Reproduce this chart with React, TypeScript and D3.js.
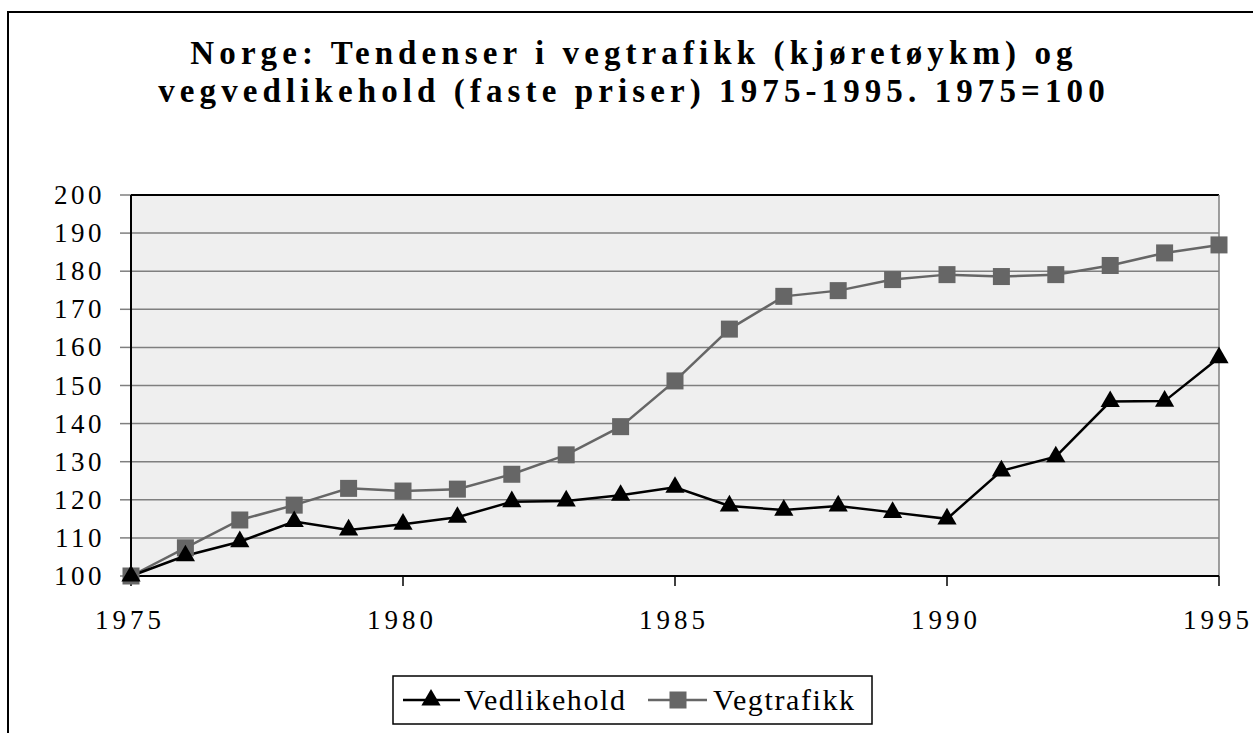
import * as d3 from 'd3';

const years = d3.range(1975, 1996);
const vedlikehold = [100, 105.3, 109.0, 114.3, 112.1, 113.6, 115.4, 119.5, 119.7, 121.2, 123.3, 118.4, 117.3, 118.4, 116.7, 115.0, 127.6, 131.3, 145.8, 145.9, 157.3];
const vegtrafikk = [100, 107.4, 114.7, 118.6, 123.0, 122.3, 122.8, 126.7, 131.8, 139.2, 151.2, 164.8, 173.4, 174.9, 177.8, 179.1, 178.6, 179.1, 181.5, 184.8, 186.9];
const yTicks = [100, 110, 120, 130, 140, 150, 160, 170, 180, 190, 200];
const xTicks = [1975, 1980, 1985, 1990, 1995];
const titleLines = [
  'Norge: Tendenser i vegtrafikk (kjøretøykm) og',
  'vegvedlikehold (faste priser) 1975-1995. 1975=100',
];

const W = 1253;
const H = 733;
const serif = '"Liberation Serif", "Times New Roman", serif';

export default function App() {
  const x = d3.scaleLinear().domain([1975, 1995]).range([131, 1219]);
  const y = d3.scaleLinear().domain([100, 200]).range([576, 195]);

  const line = d3.line<number>()
    .x((_, i) => x(years[i]))
    .y(d => y(d));

  const tri = d3.symbol().type(d3.symbolTriangle).size(160)();
  const sq = 17;

  return (
    <svg width={W} height={H} style={{ position: 'absolute', left: 0, top: 0, background: '#fff' }}>
      {/* outer chart frame, runs off the page right and bottom */}
      <rect x={8} y={12} width={W + 20} height={H + 20} fill="#fff" stroke="#000" strokeWidth={2} />

      {titleLines.map((t, i) => (
        <text key={i} x={634} y={64 + i * 38} textAnchor="middle"
          fontFamily={serif} fontWeight="bold" fontSize={33} letterSpacing={5.1} fill="#000">
          {t}
        </text>
      ))}

      {/* plot area */}
      <rect x={x(1975)} y={y(200)} width={x(1995) - x(1975)} height={y(100) - y(200)} fill="#efefef" />
      {yTicks.map(t => (
        <g key={t}>
          <line x1={x(1975)} x2={x(1995)} y1={y(t)} y2={y(t)} stroke="#7f7f7f" strokeWidth={1.5} />
          <line x1={x(1975) - 11} x2={x(1975)} y1={y(t)} y2={y(t)} stroke="#7f7f7f" strokeWidth={1.5} />
          <text x={105} y={y(t) + 9} textAnchor="end" fontFamily={serif} fontSize={27} letterSpacing={3.5} fill="#000">
            {t}
          </text>
        </g>
      ))}
      <line x1={x(1975)} x2={x(1995)} y1={y(200)} y2={y(200)} stroke="#000" strokeWidth={2} />
      <line x1={x(1995)} x2={x(1995)} y1={y(200)} y2={y(100)} stroke="#7f7f7f" strokeWidth={1.5} />
      <line x1={x(1975)} x2={x(1975)} y1={y(200)} y2={y(100)} stroke="#000" strokeWidth={2} />
      <line x1={x(1975)} x2={x(1995)} y1={y(100)} y2={y(100)} stroke="#000" strokeWidth={2} />
      {xTicks.map(t => (
        <g key={t}>
          <line x1={x(t)} x2={x(t)} y1={y(100)} y2={y(100) + 10} stroke="#000" strokeWidth={1.5} />
          <text x={x(t) - 1} y={629} textAnchor="middle" fontFamily={serif} fontSize={27} letterSpacing={4} fill="#000">
            {t}
          </text>
        </g>
      ))}

      {/* series */}
      <path d={line(vegtrafikk) ?? ''} fill="none" stroke="#666" strokeWidth={2.5} />
      <path d={line(vedlikehold) ?? ''} fill="none" stroke="#000" strokeWidth={2.5} />
      {vegtrafikk.map((v, i) => (
        <rect key={i} x={x(years[i]) - sq / 2} y={y(v) - sq / 2} width={sq} height={sq} fill="#666" />
      ))}
      {vedlikehold.map((v, i) => (
        <path key={i} d={tri ?? ''} transform={`translate(${x(years[i])},${y(v)})`} fill="#000" />
      ))}

      {/* legend */}
      <rect x={393} y={676} width={479} height={48} fill="#fff" stroke="#000" strokeWidth={1.5} />
      <line x1={403} x2={460} y1={700} y2={700} stroke="#000" strokeWidth={2.5} />
      <path d={tri ?? ''} transform="translate(431,700)" fill="#000" />
      <text x={464} y={710} fontFamily={serif} fontSize={30} letterSpacing={1.6} fill="#000">Vedlikehold</text>
      <line x1={648} x2={707} y1={700} y2={700} stroke="#666" strokeWidth={2.5} />
      <rect x={678 - sq / 2} y={700 - sq / 2} width={sq} height={sq} fill="#666" />
      <text x={713} y={710} fontFamily={serif} fontSize={30} letterSpacing={1.6} fill="#000">Vegtrafikk</text>
    </svg>
  );
}
